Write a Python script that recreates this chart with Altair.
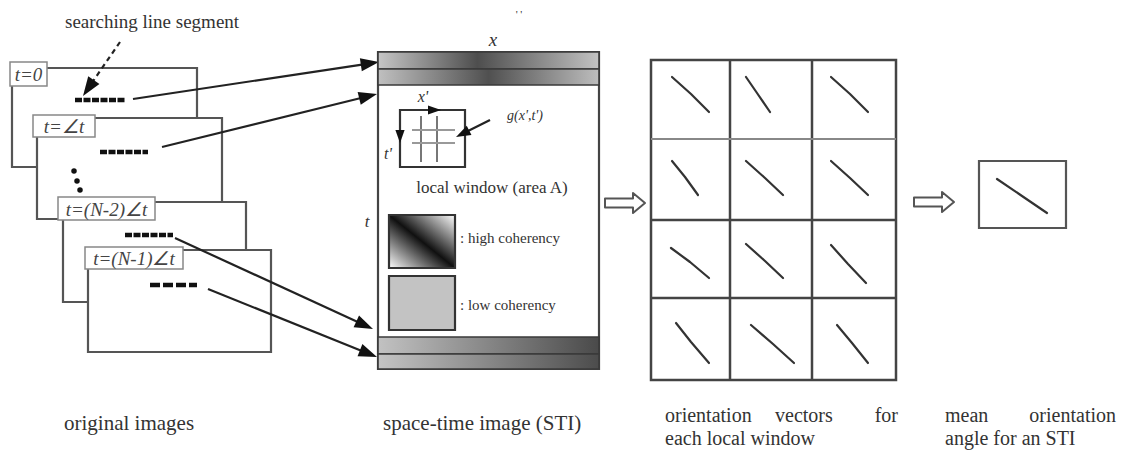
import math
import altair as alt
import pandas as pd

W, H, M = 1125, 459, 8
SERIF = "Liberation Serif"
INK = "#2a2a2a"

# ---------------- data ----------------
frame_boxes = [(12, 197, 68, 167), (37, 222, 118, 219), (63, 246, 202, 302), (88, 271, 250, 352)]
label_boxes = [(10, 47, 62, 86), (33, 95, 115, 137), (58, 155, 197, 220), (85, 183, 247, 269)]
label_texts = ["t=0", "t=∠t", "t=(N-2)∠t", "t=(N-1)∠t"]
segments = [(75, 125, 100), (100, 148, 152), (125, 173, 235), (150, 197, 285)]
dots_x = [74, 77, 80]
dots_y = [171, 181, 190]
arrow_start = [(133, 99), (162, 147), (175, 238), (208, 289)]
arrow_tip = [(379, 62), (377, 94), (373, 329), (377, 357)]
search_start = (120, 42)
search_tip = (83, 96)

sti_box = (378, 599, 52, 369)
sti_bands = [(52, 69), (69, 85), (337, 354), (354, 369)]
win_box = (400, 465, 110, 167)
win_vlines = [421, 437]
win_hlines = [130, 143]
high_box = (389, 455, 215, 268)
low_box = (389, 455, 276, 330)

grid_box = (651, 896, 60, 380)
grid_cols = [730, 812]
grid_rows = [139, 220, 298]
vectors = [
    [(672, 77), (691, 94), (709, 112)], [(746, 77), (757, 93), (770, 112)], [(831, 77), (850, 94), (868, 112)],
    [(672, 161), (685, 177), (698, 195)], [(746, 161), (765, 178), (783, 195)], [(831, 161), (850, 178), (868, 195)],
    [(671, 248), (690, 262), (709, 278)], [(746, 244), (765, 261), (783, 278)], [(831, 245), (848, 264), (866, 283)],
    [(676, 323), (691, 342), (709, 363)], [(751, 325), (773, 344), (794, 363)], [(837, 325), (852, 343), (868, 363)],
]
mean_box = (979, 1066, 161, 228)
mean_vec = [(997, 179), (1022, 196), (1047, 213)]
hollow_arrows = [605, 914]
hollow_y = [203, 202]

texts = [
    # x, y, text, size, style, align
    (65, 22, "searching line segment", 19, "normal", "left"),
    (493, 40, "x", 19, "italic", "center"),
    (519, 15, "' '", 11, "normal", "center"),
    (367, 222, "t", 17, "italic", "center"),
    (423, 97, "x'", 16, "italic", "center"),
    (388, 154, "t'", 16, "italic", "center"),
    (525, 116, "g(x',t')", 14, "italic", "center"),
    (492, 188, "local window (area A)", 17, "normal", "center"),
    (460, 238, ": high coherency", 15, "normal", "left"),
    (460, 305, ": low coherency", 15, "normal", "left"),
    (64, 424, "original images", 21, "normal", "left"),
    (383, 424, "space-time image (STI)", 21, "normal", "left"),
    (665, 416, "orientation", 20, "normal", "left"),
    (775, 416, "vectors", 20, "normal", "left"),
    (898, 416, "for", 20, "normal", "right"),
    (665, 439, "each local window", 20, "normal", "left"),
    (945, 416, "mean", 20, "normal", "left"),
    (1116, 416, "orientation", 20, "normal", "right"),
    (945, 439, "angle for an STI", 20, "normal", "left"),
]

# ---------------- scales / helpers ----------------
XS = alt.Scale(domain=[M, W - M], zero=False, nice=False)
YS = alt.Scale(domain=[M, H - M], zero=False, nice=False, reverse=True)


def X(f="x"):
    return alt.X(f"{f}:Q", scale=XS, axis=None)


def Y(f="y"):
    return alt.Y(f"{f}:Q", scale=YS, axis=None)


layers = []


def rects(rows, fill="white", stroke="#555", sw=2.0):
    df = pd.DataFrame(rows, columns=["x", "x2", "y", "y2"])
    return alt.Chart(df).mark_rect(fill=fill, stroke=stroke, strokeWidth=sw).encode(
        x=X(), x2="x2:Q", y=Y(), y2="y2:Q")


def rules(rows, color=INK, sw=2.0, dash=None):
    df = pd.DataFrame(rows, columns=["x", "x2", "y", "y2"])
    kw = dict(color=color, strokeWidth=sw)
    if dash:
        kw["strokeDash"] = dash
    return alt.Chart(df).mark_rule(**kw).encode(x=X(), x2="x2:Q", y=Y(), y2="y2:Q")


def polylines(lines, color=INK, sw=2.0):
    rows = []
    for i, pts in enumerate(lines):
        for j, (px, py) in enumerate(pts):
            rows.append({"id": i, "o": j, "x": px, "y": py})
    df = pd.DataFrame(rows)
    return alt.Chart(df).mark_line(color=color, strokeWidth=sw, strokeJoin="round", strokeCap="round").encode(
        x=X(), y=Y(), detail="id:N", order="o:Q")


HEAD = "M0,-1L0.62,0.75L-0.62,0.75Z"


def heads(starts, tips, size=300):
    r = math.sqrt(size) / 2
    rows = []
    for (sx, sy), (tx, ty) in zip(starts, tips):
        dx, dy = tx - sx, ty - sy
        L = math.hypot(dx, dy)
        ux, uy = dx / L, dy / L
        ang = math.degrees(math.atan2(dx, -dy)) % 360
        rows.append({"x": tx - r * ux, "y": ty - r * uy, "a": ang})
    df = pd.DataFrame(rows)
    return alt.Chart(df).mark_point(shape=HEAD, filled=True, color="#111", opacity=1, size=size).encode(
        x=X(), y=Y(), angle=alt.Angle("a:Q", scale=None))


# ---------------- original images ----------------
stack = []
for fb, lb in zip(frame_boxes, label_boxes):
    stack.append(fb)
    stack.append(lb)
df_stack = pd.DataFrame(stack, columns=["x", "x2", "y", "y2"])
df_stack["sw"] = [2.2, 1.5] * 4
df_stack["st"] = ["#555", "#888"] * 4
layers.append(alt.Chart(df_stack).mark_rect(fill="white").encode(
    x=X(), x2="x2:Q", y=Y(), y2="y2:Q",
    stroke=alt.Stroke("st:N", scale=None), strokeWidth=alt.StrokeWidth("sw:Q", scale=None)))

layers.append(rules([(a, b, y, y) for a, b, y in segments[:3]], color="#111", sw=4.5, dash=[7, 1.5]))
layers.append(rules([(a, b, y, y) for a, b, y in segments[3:]], color="#111", sw=4.5, dash=[10, 3]))

df_dots = pd.DataFrame({"x": dots_x, "y": dots_y})
layers.append(alt.Chart(df_dots).mark_circle(color="#111", size=30, opacity=1).encode(x=X(), y=Y()))

df_lab = pd.DataFrame({
    "x": [(b[0] + b[1]) / 2 for b in label_boxes],
    "y": [(b[2] + b[3]) / 2 + 1 for b in label_boxes],
    "t": label_texts,
})
layers.append(alt.Chart(df_lab).mark_text(font=SERIF, fontSize=19, fontStyle="italic", color="#444",
                                          baseline="middle", align="center").encode(x=X(), y=Y(), text="t:N"))

# arrows from frames to STI
layers.append(rules([(s[0], t[0] - 12, s[1], t[1] - (t[1] - s[1]) * 12 / (t[0] - s[0]))
                     for s, t in zip(arrow_start, arrow_tip)], color="#222", sw=2.2))
layers.append(heads(arrow_start, arrow_tip, size=440))

# searching arrow (dashed)
layers.append(rules([(search_start[0], search_tip[0] + 6, search_start[1], search_tip[1] - 9)],
                    color="#222", sw=2.2, dash=[5, 4]))
layers.append(heads([search_start], [search_tip], size=480))

# ---------------- space-time image ----------------
layers.append(rects([sti_box], fill="white", stroke="#444", sw=2.2))
band_grads = [
    [("#c6c6c6", 0.0), ("#4e4e4e", 0.45), ("#c2c2c2", 1.0)],
    [("#c0c0c0", 0.0), ("#505050", 0.5), ("#bdbdbd", 1.0)],
    [("#c2c2c2", 0.0), ("#4a4a4a", 1.0)],
    [("#c4c4c4", 0.0), ("#4c4c4c", 1.0)],
]
for (y1, y2), stops in zip(sti_bands, band_grads):
    g = alt.LinearGradient(gradient="linear", x1=0, y1=0, x2=1, y2=0,
                           stops=[alt.GradientStop(color=c, offset=o) for c, o in stops])
    layers.append(rects([(sti_box[0], sti_box[1], y1, y2)], fill=g, stroke="#3a3a3a", sw=1.6))

# local window
layers.append(rects([win_box], fill="white", stroke="#333", sw=2.2))
layers.append(rules([(v, v, 116, 162) for v in win_vlines], color="#777", sw=2))
layers.append(rules([(412, 455, h, h) for h in win_hlines], color="#999", sw=2))
layers.append(heads([(400, 110), (400, 110)], [(441, 110), (400, 143)], size=220))
layers.append(rules([(490, 462, 120, 134)], color="#222", sw=2.2))
layers.append(heads([(490, 120)], [(456, 137)], size=280))

# coherency swatches
g_high = alt.LinearGradient(gradient="linear", x1=0, y1=1, x2=1, y2=0,
                            stops=[alt.GradientStop(color="#ffffff", offset=0.0),
                                   alt.GradientStop(color="#101010", offset=0.5),
                                   alt.GradientStop(color="#ffffff", offset=1.0)])
layers.append(rects([high_box], fill=g_high, stroke="#333", sw=2.2))
layers.append(rects([low_box], fill="#c3c3c3", stroke="#333", sw=2.2))

# ---------------- hollow arrows ----------------
hollow = []
for x0, y0 in zip(hollow_arrows, hollow_y):
    hollow.append([(x0, y0 - 4.5), (x0 + 28, y0 - 4.5), (x0 + 28, y0 - 10), (x0 + 40, y0),
                   (x0 + 28, y0 + 10), (x0 + 28, y0 + 4.5), (x0, y0 + 4.5), (x0, y0 - 4.5)])
layers.append(polylines(hollow, color="#555", sw=2))

# ---------------- orientation grid ----------------
layers.append(rects([grid_box], fill="white", stroke="#444", sw=2.5))
layers.append(rules([(c, c, grid_box[2], grid_box[3]) for c in grid_cols], color="#444", sw=2.5))
layers.append(rules([(grid_box[0], grid_box[1], r, r) for r in grid_rows[:1]], color="#888", sw=1.8))
layers.append(rules([(grid_box[0], grid_box[1], r, r) for r in grid_rows[1:]], color="#444", sw=2.5))
layers.append(polylines(vectors, color="#333", sw=2.2))

# mean orientation
layers.append(rects([mean_box], fill="white", stroke="#555", sw=2.2))
layers.append(polylines([mean_vec], color="#333", sw=2.2))

# ---------------- texts ----------------
df_t = pd.DataFrame(texts, columns=["x", "y", "t", "s", "style", "align"])
for (style, align), sub in df_t.groupby(["style", "align"]):
    layers.append(alt.Chart(sub).mark_text(font=SERIF, fontStyle=style, align=align, baseline="middle",
                                           color="#333").encode(
        x=X(), y=Y(), text="t:N", size=alt.Size("s:Q", scale=None)))

chart = alt.layer(*layers).properties(
    width=W - 2 * M, height=H - 2 * M, padding=0, background="white",
    autosize=alt.AutoSizeParams(type="none"),
).configure_view(stroke=None)

chart.save("out.html", embed_options={"renderer": "svg", "actions": False})
